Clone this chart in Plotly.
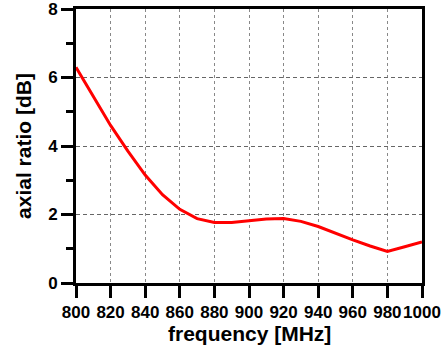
import plotly.graph_objects as go

freq = [800, 810, 820, 830, 840, 850, 860, 870, 880, 890, 900, 910, 920, 930, 940, 950, 960, 970, 980, 990, 1000]
axial_ratio = [6.3, 5.45, 4.6, 3.85, 3.15, 2.58, 2.15, 1.88, 1.77, 1.77, 1.82, 1.87, 1.88, 1.8, 1.65, 1.45, 1.26, 1.08, 0.92, 1.06, 1.2]

x_ticks = [800, 820, 840, 860, 880, 900, 920, 940, 960, 980, 1000]
y_ticks = [0, 2, 4, 6, 8]

fig = go.Figure()
fig.add_trace(go.Scatter(x=freq, y=axial_ratio, mode="lines",
                         line=dict(color="#ff0000", width=3),
                         showlegend=False))

tickfont = dict(family="Liberation Sans, Arial", size=17, color="black", weight="bold")
titlefont = dict(family="Liberation Sans, Arial", size=21, color="black", weight="bold")

fig.update_layout(
    width=444, height=345,
    margin=dict(l=76, r=22, t=9, b=62),
    paper_bgcolor="white", plot_bgcolor="white",
    xaxis=dict(range=[800, 1000], tickvals=x_ticks, ticktext=[str(v) for v in x_ticks],
               automargin=False, tickangle=0, ticklabelstandoff=0, ticklabeloverflow="allow",
               showline=True, linecolor="black", linewidth=3, mirror=True,
               ticks="outside", ticklen=12, tickwidth=3, tickcolor="black",
               showgrid=True, gridcolor="#888888", gridwidth=1, griddash="3px,3px",
               zeroline=False, tickfont=tickfont),
    yaxis=dict(range=[0, 8], tickvals=y_ticks, automargin=False, ticklabeloverflow="allow",
               showline=True, linecolor="black", linewidth=3, mirror=True,
               ticks="outside", ticklen=12, tickwidth=3, tickcolor="black",
               minor=dict(dtick=1, ticks="outside", ticklen=7, tickwidth=3, tickcolor="black", showgrid=False),
               showgrid=True, gridcolor="#666666", gridwidth=1, griddash="4px,3px",
               zeroline=False, tickfont=tickfont,
               title=dict(text="axial ratio [dB]", font=titlefont, standoff=11)),
    annotations=[dict(text="frequency [MHz]", font=titlefont, showarrow=False,
                      xref="paper", yref="paper", x=0.5, y=-0.183,
                      xanchor="center", yanchor="middle")],
)

fig.write_html("out.html", config={"displayModeBar": False},
               post_script="document.body.style.margin='0';")
